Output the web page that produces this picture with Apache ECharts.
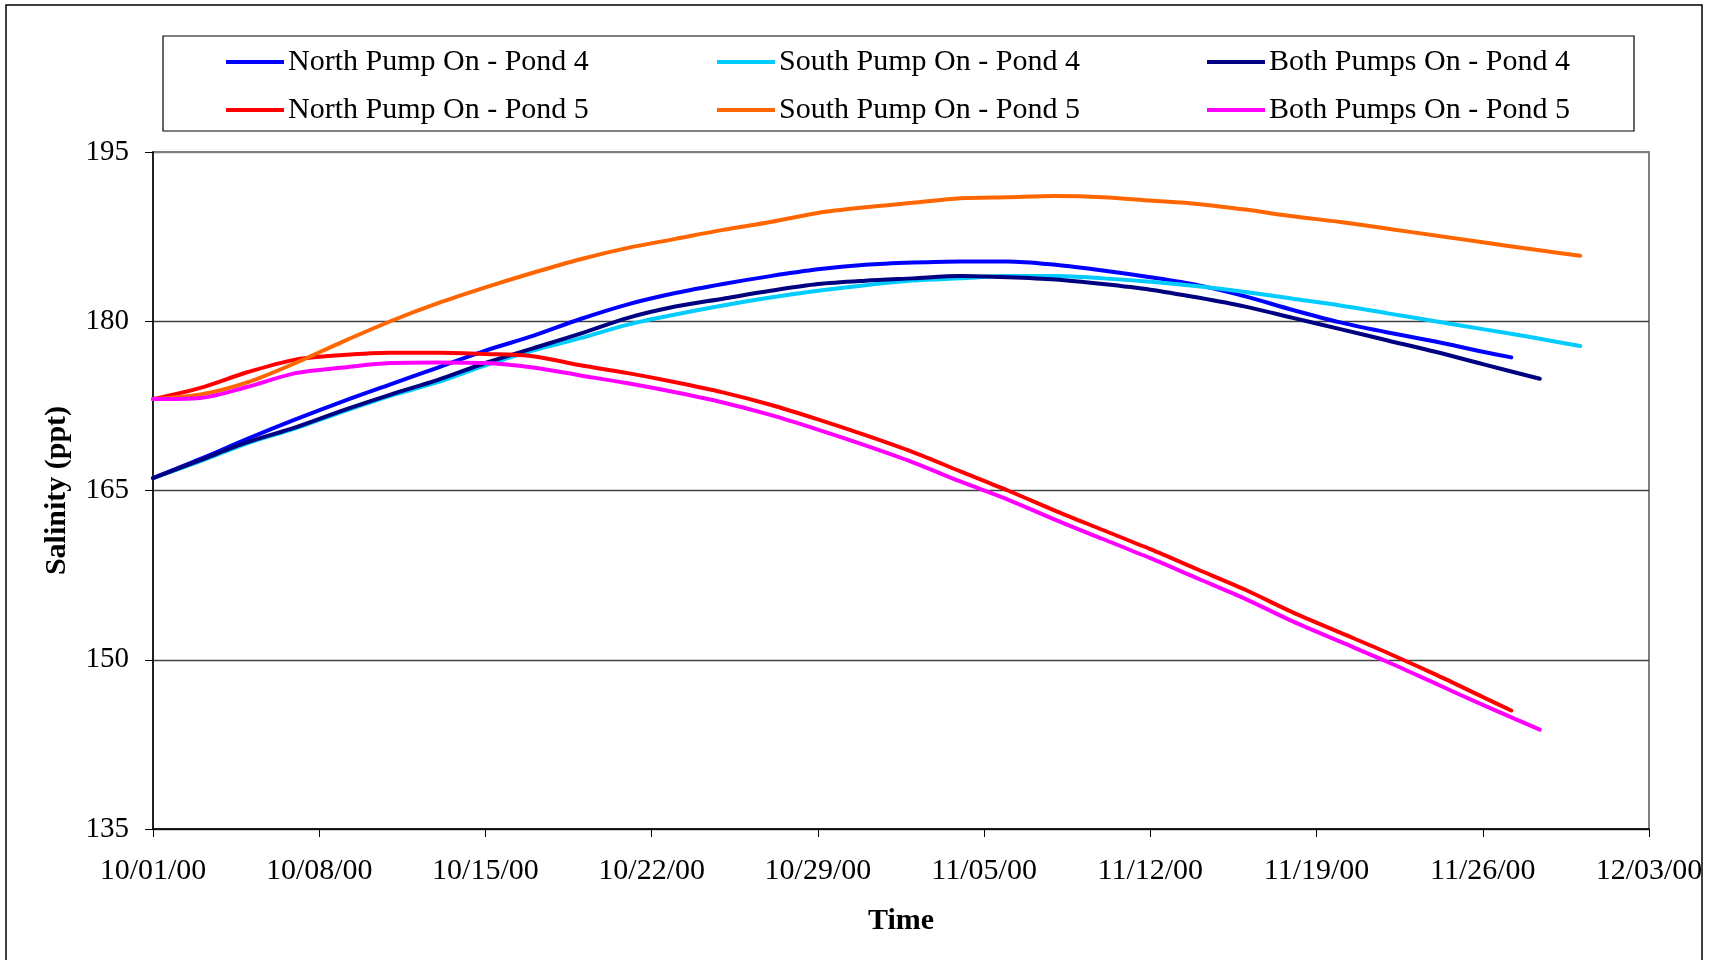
<!DOCTYPE html>
<html>
<head>
<meta charset="utf-8">
<script src="https://cdn.jsdelivr.net/npm/echarts@6/dist/echarts.min.js"></script>
<style>
html,body{margin:0;padding:0;background:#fff;}
#chart{width:1713px;height:960px;}
</style>
</head>
<body>
<div id="chart"></div>
<script>
// Days since 10/01/00
var days = [0,2,4,6,8,10,12,14,16,18,20,22,24,26,28,30,32,34,36,38,40,42,44,46,48,50,52,54,56,58];
var tickLabels = ['10/01/00','10/08/00','10/15/00','10/22/00','10/29/00','11/05/00','11/12/00','11/19/00','11/26/00','12/03/00'];
var seriesNames = ['North Pump On - Pond 4','South Pump On - Pond 4','Both Pumps On - Pond 4',
                   'North Pump On - Pond 5','South Pump On - Pond 5','Both Pumps On - Pond 5'];

var northPond4 = [166.1,167.8,169.6,171.3,172.9,174.4,175.9,177.4,178.7,180.2,181.5,182.5,183.3,184.0,184.6,185.0,185.2,185.3,185.3,185.0,184.5,183.9,183.2,182.2,181.0,179.9,179.0,178.2,177.3];
var northPond4End = [57.2, 176.8];
var southPond4 = [166.1,167.6,169.2,170.5,172.0,173.4,174.6,176.1,177.4,178.5,179.7,180.6,181.4,182.1,182.7,183.2,183.6,183.8,184.0,184.0,183.8,183.5,183.1,182.6,182.0,181.4,180.7,180.0,179.3,178.6];
var southPond4End = [60.1, 177.8];
var bothPond4 = [166.1,167.7,169.3,170.6,172.1,173.5,174.8,176.3,177.6,178.9,180.3,181.3,182.0,182.7,183.3,183.6,183.8,184.0,183.9,183.7,183.3,182.8,182.1,181.3,180.3,179.3,178.3,177.3,176.2];
var bothPond4End = [58.4, 174.9];
var northPond5 = [173.1,174.1,175.5,176.6,177.0,177.2,177.2,177.1,176.9,176.1,175.4,174.6,173.7,172.6,171.3,169.9,168.4,166.7,165.0,163.2,161.5,159.8,158.0,156.2,154.2,152.4,150.6,148.7,146.7];
var northPond5End = [57.2, 145.5];
var southPond5 = [173.1,173.5,174.6,176.3,178.2,180.0,181.6,183.0,184.3,185.5,186.5,187.3,188.1,188.8,189.6,190.1,190.5,190.9,191.0,191.1,191.0,190.7,190.4,189.9,189.3,188.8,188.2,187.6,187.0,186.4];
var southPond5End = [60.1, 185.8];
var bothPond5 = [173.1,173.2,174.2,175.4,175.9,176.3,176.35,176.3,175.9,175.2,174.5,173.7,172.8,171.7,170.4,169.0,167.5,165.8,164.2,162.4,160.7,159.0,157.2,155.4,153.4,151.6,149.8,147.9,146.0];
var bothPond5End = [58.4, 143.8];

var colors = ['#0000FF','#00CCFF','#000080','#FF0000','#FF6600','#FF00FF'];
var values = [northPond4, southPond4, bothPond4, northPond5, southPond5, bothPond5];
var ends = [northPond4End, southPond4End, bothPond4End, northPond5End, southPond5End, bothPond5End];

function build(vals, end) {
  var out = vals.map(function (v, i) { return [days[i], v]; });
  out.push(end);
  return out;
}

var FONT = "'Liberation Serif','Times New Roman',serif";
var legendLefts = [226, 717, 1207];
var legendTops = [47, 95];

var legends = seriesNames.map(function (name, k) {
  return {
    left: legendLefts[k % 3], top: legendTops[Math.floor(k / 3)], padding: 0,
    itemGap: 0, itemWidth: 58, itemHeight: 4, icon: 'rect',
    data: [name], selectedMode: false,
    textStyle: {fontFamily: FONT, fontSize: 30, color: '#000', padding: [0, 0, 0, -1]}
  };
});

var chart = echarts.init(document.getElementById('chart'), null, {renderer: 'canvas'});
chart.setOption({
  animation: false,
  backgroundColor: '#fff',
  textStyle: {fontFamily: FONT, color: '#000'},
  graphic: [
    {type: 'rect', shape: {x: 6, y: 5, width: 1696, height: 962}, style: {fill: 'none', stroke: '#000', lineWidth: 1.5}, z: -10},
    {type: 'rect', shape: {x: 163, y: 36, width: 1471, height: 95}, style: {fill: 'none', stroke: '#000', lineWidth: 1.2}, z: -10}
  ],
  legend: legends,
  grid: {left: 153, right: 64, top: 152, bottom: 131, show: true, borderColor: '#808080', borderWidth: 2, backgroundColor: 'transparent'},
  xAxis: {
    type: 'value', min: 0, max: 63, interval: 7,
    name: 'Time', nameLocation: 'middle', nameGap: 77,
    nameTextStyle: {fontFamily: FONT, fontSize: 30, fontWeight: 'bold', color: '#000'},
    axisLine: {show: true, onZero: false, lineStyle: {color: '#000', width: 1.5}},
    axisTick: {show: true, inside: false, length: 8, lineStyle: {color: '#000', width: 1}},
    axisLabel: {margin: 27, fontFamily: FONT, fontSize: 30, color: '#000', showMaxLabel: true, showMinLabel: true, hideOverlap: false,
      formatter: function (v) { return tickLabels[Math.round(v / 7)]; }},
    splitLine: {show: false}
  },
  yAxis: {
    type: 'value', min: 135, max: 195, interval: 15,
    name: 'Salinity (ppt)', nameLocation: 'middle', nameGap: 81, nameRotate: 90,
    nameTextStyle: {fontFamily: FONT, fontSize: 30, fontWeight: 'bold', color: '#000'},
    axisLine: {show: true, lineStyle: {color: '#000', width: 1.5}},
    axisTick: {show: true, inside: false, length: 8, lineStyle: {color: '#000', width: 1}},
    axisLabel: {margin: 24, fontFamily: FONT, fontSize: 29, color: '#000'},
    splitLine: {show: true, lineStyle: {color: ['#404040','#404040','#404040','#404040','#808080'], width: 1.3}}
  },
  series: values.map(function (vals, k) {
    return {
      name: seriesNames[k], type: 'line', data: build(vals, ends[k]),
      showSymbol: false, symbol: 'none', smooth: 0.3,
      lineStyle: {color: colors[k], width: 4, cap: 'round', join: 'round'},
      itemStyle: {color: colors[k]}
    };
  })
});
</script>
</body>
</html>
